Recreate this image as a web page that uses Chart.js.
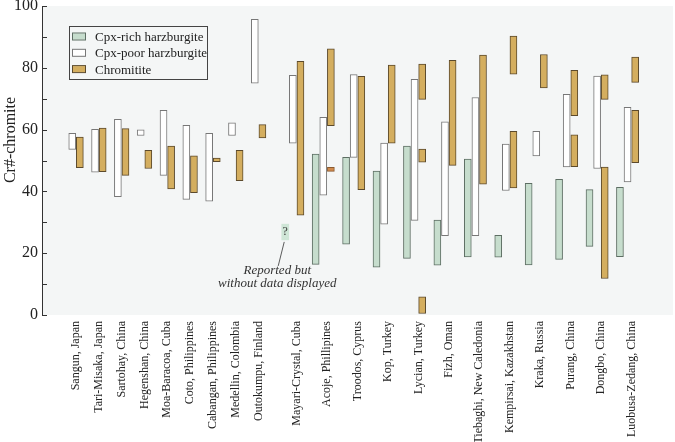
<!DOCTYPE html>
<html><head><meta charset="utf-8">
<script src="https://cdn.jsdelivr.net/npm/chart.js@4"></script>
<style>html,body{margin:0;padding:0;background:#fff}#wrap{width:675px;height:442px;position:relative}</style>
</head><body><div id="wrap"><canvas id="c"></canvas></div>
<script>
const categories = ['Sangun, Japan','Tari-Misaka, Japan','Sartohay, China','Hegenshan, China','Moa-Baracoa, Cuba','Coto, Philippines','Cabangan, Philippines','Medellin, Colombia','Outokumpu, Finland','Mayari-Crystal, Cuba','Acoje, Phillipines','Troodos, Cyprus','Kop, Turkey','Lycian, Turkey','Fizh, Oman','Tiebaghi, New Caledonia','Kempirsai, Kazakhstan','Kraka, Russia','Purang, China','Dongbo, China','Luobusa-Zedang, China'];
const seriesNames = ['Cpx-rich harzburgite','Cpx-poor harzburgite','Chromitite'];
// Cpx-rich harzburgite Cr# range per locality
const cpxRich = [null,null,null,null,null,null,null,null,null,null,[16.4,52.1],[22.9,51.0],[15.5,46.6],[18.3,54.7],[16.1,30.7],[18.8,50.5],[18.7,25.8],[16.2,42.6],[18.0,43.9],[22.2,40.6],[18.9,41.3]];
// reported without data (placeholder mark)
const reportedOnly = [null,null,null,null,null,null,null,null,null,[24.3,29.4],null,null,null,null,null,null,null,null,null,null,null];
// Cpx-poor harzburgite
const cpxPoor = [[53.6,58.8],[46.2,60.1],[38.3,63.3],[58.1,59.9],[45.2,66.2],[37.4,61.4],[36.8,58.8],[58.1,62.2],[75.0,95.7],[55.6,77.6],[38.8,64.0],[51.0,77.8],[29.4,55.6],[30.6,76.3],[25.7,62.5],[25.7,70.4],[40.3,55.3],[51.5,59.4],[47.9,71.4],[47.4,77.3],[43.1,67.2]];
// Chromitite (one or more ranges)
const chromitite = [[[47.7,57.6]],[[46.4,60.5]],[[45.2,60.3]],[[47.4,53.3]],[[40.8,54.7]],[[39.6,51.5]],[[49.6,50.8]],[[43.5,53.3]],[[57.3,61.6]],[[32.3,82.1]],[[61.3,86.1]],[[40.6,77.2]],[[55.6,80.9]],[[69.8,81.2],[49.5,53.7],[0.5,5.9]],[[48.4,82.4]],[[42.3,84.1]],[[77.9,90.3],[41.1,59.4]],[[73.5,84.3]],[[64.5,79.2],[48.0,58.3]],[[69.8,77.7],[11.8,47.9]],[[75.3,83.5],[49.3,66.2]]];
const chromititeMinor = [null,null,null,null,null,null,null,null,null,null,[46.5,47.8],null,null,null,null,null,null,null,null,null,null];
const yTicks = [0,20,40,60,80,100];
const yMinorStep = 10;

// slot layout
const slots = []; let pos = 0; let prevRich = false;
categories.forEach((c,i)=>{
  const hasRich = cpxRich[i] !== null || reportedOnly[i] !== null;
  if (i>0 && hasRich && !prevRich) pos += 1;
  const s = {};
  if (hasRich) s.rich = pos++;
  s.poor = pos++; s.chr = pos++; s.label = (s.poor+s.chr)/2; pos++;
  slots.push(s); prevRich = hasRich;
});
const richData = [], poorData = [], chrData = [], minorData = [], repData = [];
categories.forEach((c,i)=>{
  if (cpxRich[i]) richData.push({x:slots[i].rich, y:cpxRich[i]});
  if (reportedOnly[i]) repData.push({x:slots[i].rich, y:reportedOnly[i]});
  if (cpxPoor[i]) poorData.push({x:slots[i].poor, y:cpxPoor[i]});
  chromitite[i].forEach(r=>chrData.push({x:slots[i].chr, y:r}));
  if (chromititeMinor[i]) minorData.push({x:slots[i].chr, y:chromititeMinor[i]});
});

const SERIF = "'Liberation Serif','Times New Roman',serif";
const colors = {
  rich:{bg:'#c6ddcd', bd:'#5d6e63'},
  poor:{bg:'#ffffff', bd:'#777777'},
  chr:{bg:'#d4ae5f', bd:'#5c4a2c'}
};

const bgPlugin = {
  id:'bg',
  beforeDraw(chart){
    const {ctx, chartArea:a} = chart;
    ctx.save(); ctx.fillStyle = '#f4f6f6';
    ctx.fillRect(a.left, a.top, a.right-a.left, a.bottom-a.top);
    ctx.restore();
  }
};
const decorPlugin = {
  id:'decor',
  afterDraw(chart){
    const {ctx, chartArea:a, scales:{x, y}} = chart;
    ctx.save();
    // inward ticks
    ctx.strokeStyle = '#333'; ctx.lineWidth = 1;
    for (let v = 0; v <= 100; v += yMinorStep){
      const py = Math.round(y.getPixelForValue(v)) + 0.5;
      ctx.beginPath(); ctx.moveTo(a.left, py); ctx.lineTo(a.left+5, py); ctx.stroke();
    }
    // y title
    ctx.fillStyle = '#222';
    ctx.font = '16px ' + SERIF;
    ctx.textAlign = 'center'; ctx.textBaseline = 'middle';
    ctx.save(); ctx.translate(11, 140); ctx.rotate(-Math.PI/2); ctx.fillText('Cr#-chromite', 0, 0); ctx.restore();
    // legend
    const lx = a.left + 27, ly = a.top + 20, lw = 138, lh = 53;
    ctx.fillStyle = '#f4f6f6'; ctx.fillRect(lx, ly, lw, lh);
    ctx.strokeStyle = '#444'; ctx.strokeRect(lx+0.5, ly+0.5, lw, lh);
    const keys = ['rich','poor','chr'];
    ctx.font = '13px ' + SERIF; ctx.textAlign = 'left';
    keys.forEach((k,i)=>{
      const cy = ly + 10.5 + i*16.3;
      ctx.fillStyle = colors[k].bg; ctx.fillRect(lx+3, cy-3, 13, 6);
      ctx.strokeStyle = colors[k].bd; ctx.strokeRect(lx+3.5, cy-3.5, 13, 7);
      ctx.fillStyle = '#222'; ctx.fillText(seriesNames[i], lx+26, cy+1);
    });
    // reported annotation
    repData.forEach(d=>{
      const cx = x.getPixelForValue(d.x);
      const top = y.getPixelForValue(d.y[1]), bot = y.getPixelForValue(d.y[0]);
      ctx.fillStyle = '#333'; ctx.font = '12px ' + SERIF; ctx.textAlign='center';
      ctx.fillText('?', cx, (top+bot)/2);
      ctx.strokeStyle = '#333'; ctx.lineWidth = 0.8;
      ctx.beginPath(); ctx.moveTo(cx-1, bot+2); ctx.lineTo(cx-7, bot+26); ctx.stroke();
      ctx.font = 'italic 13px ' + SERIF;
      ctx.fillText('Reported but', cx-8, bot+31);
      ctx.fillText('without data displayed', cx-8, bot+44);
    });
    ctx.restore();
  }
};

new Chart(document.getElementById('c'), {
  type:'bar',
  data:{datasets:[
    {label:seriesNames[0], data:richData, backgroundColor:colors.rich.bg, borderColor:colors.rich.bd},
    {label:seriesNames[1], data:poorData, backgroundColor:colors.poor.bg, borderColor:colors.poor.bd},
    {label:seriesNames[2], data:chrData, backgroundColor:colors.chr.bg, borderColor:colors.chr.bd},
    {label:'Chromitite (minor)', data:minorData, backgroundColor:'#d08a4c', borderColor:'#8a5a30'},
    {label:'Reported', data:repData, backgroundColor:'#cfe6d7', borderWidth:0}
  ]},
  options:{
    responsive:true, maintainAspectRatio:false, animation:false, devicePixelRatio:1,
    layout:{padding:{top:6,right:2,left:0,bottom:0}},
    datasets:{bar:{grouped:false, barThickness:7, borderWidth:1, borderSkipped:false}},
    plugins:{legend:{display:false}, tooltip:{enabled:false}},
    scales:{
      x:{type:'linear', min:-2, max:77,
        afterBuildTicks: ax => { ax.ticks = slots.map(s=>({value:s.label})); },
        afterFit: ax => { ax.height = 127; ax.paddingLeft = 0; ax.paddingRight = 0; },
        ticks:{autoSkip:false, maxRotation:90, minRotation:90, padding:6, font:{family:SERIF, size:12}, color:'#222', callback:(v,i)=>categories[i]},
        grid:{display:false, drawTicks:false}, border:{display:false}},
      y:{min:0, max:100,
        afterBuildTicks: ax => { ax.ticks = yTicks.map(v=>({value:v})); },
        afterFit: ax => { ax.width = 42; ax.paddingTop = 0; ax.paddingBottom = 0; },
        ticks:{padding:4, font:{family:SERIF, size:16}, color:'#222'},
        grid:{drawOnChartArea:false, drawTicks:false}, border:{display:true, color:'#333', width:1}}
    }
  },
  plugins:[bgPlugin, decorPlugin]
});
</script></body></html>
